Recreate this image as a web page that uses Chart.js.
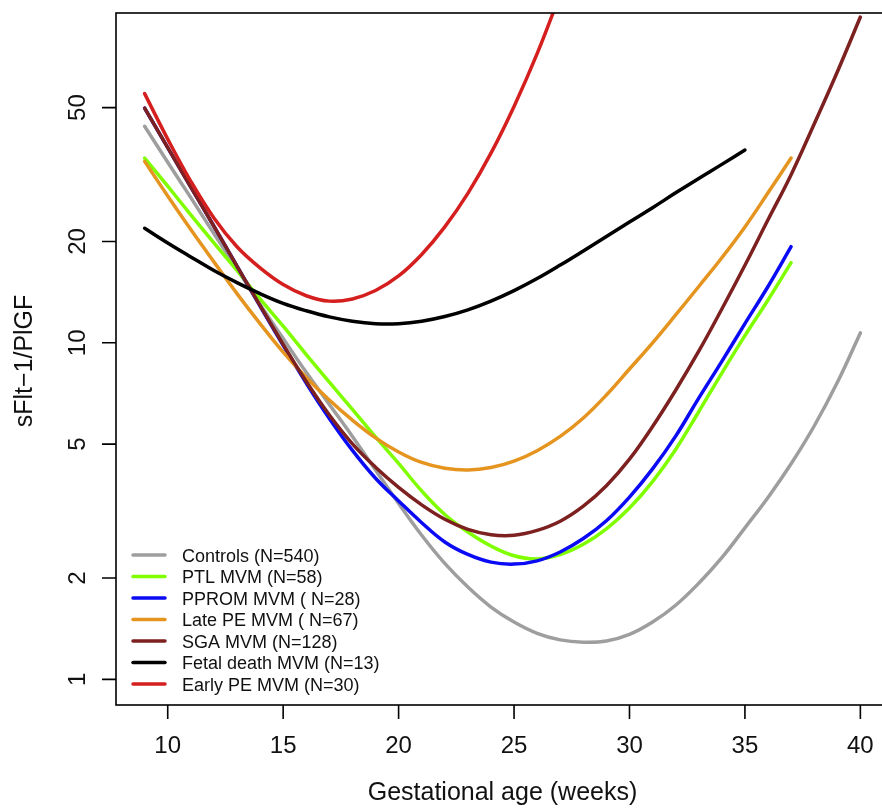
<!DOCTYPE html>
<html>
<head>
<meta charset="utf-8">
<script src="https://cdn.jsdelivr.net/npm/chart.js@4.4.1/dist/chart.umd.min.js"></script>
<style>
  html, body { margin: 0; padding: 0; background: #fff; overflow: hidden; }
  #wrap { width: 882px; height: 810px; overflow: hidden; position: relative; }
  #curves { position: absolute; left: 0; top: 0; }
</style>
</head>
<body>
<div id="wrap"><canvas id="curves" width="900" height="810"></canvas></div>
<script>
// Fitted sFlt-1/PlGF ratio by gestational week (weeks 9..40, each group stops where its data ends)
const weeks = [9, 10, 11, 12, 13, 14, 15, 16, 17, 18, 19, 20, 21, 22, 23, 24,
               25, 26, 27, 28, 29, 30, 31, 32, 33, 34, 35, 36, 37, 38, 39, 40];

const controls = [44.0, 34.4, 27.0, 21.1, 16.6, 13.0, 10.3, 8.17, 6.56, 5.27, 4.19, 3.33,
                  2.68, 2.21, 1.88, 1.64, 1.48, 1.37, 1.31, 1.29, 1.30, 1.36, 1.48, 1.66,
                  1.93, 2.30, 2.82, 3.47, 4.37, 5.66, 7.62, 10.7];
const ptl = [35.4, 29.2, 24.0, 19.8, 16.4, 13.5, 11.2, 9.23, 7.64, 6.34, 5.25, 4.38,
             3.63, 3.09, 2.74, 2.49, 2.33, 2.28, 2.35, 2.52, 2.80, 3.23, 3.87, 4.82,
             6.24, 8.13, 10.5, 13.4, 17.3];
const pprom = [49.8, 38.0, 29.0, 22.2, 16.9, 12.85, 9.82, 7.59, 5.96, 4.79, 3.96, 3.39,
               2.92, 2.56, 2.35, 2.23, 2.20, 2.25, 2.39, 2.62, 2.96, 3.48, 4.22, 5.28,
               6.85, 8.81, 11.4, 14.7, 19.3];
const latePE = [34.6, 27.3, 21.7, 17.4, 14.0, 11.4, 9.38, 7.89, 6.76, 5.89, 5.22, 4.74,
                4.41, 4.24, 4.19, 4.26, 4.45, 4.78, 5.27, 5.98, 7.00, 8.36, 10.0, 12.1,
                14.7, 17.9, 22.1, 27.9, 35.4];
const sga = [49.8, 38.0, 29.0, 22.2, 16.9, 12.9, 9.89, 7.67, 6.10, 5.01, 4.27, 3.72,
             3.30, 2.99, 2.79, 2.69, 2.68, 2.77, 2.95, 3.27, 3.76, 4.51, 5.64, 7.23,
             9.44, 12.6, 17.0, 23.2, 31.6, 44.7, 63.8, 92.9];
const fetalDeath = [21.9, 19.8, 18.0, 16.4, 15.1, 14.0, 13.1, 12.45, 11.94, 11.59, 11.40, 11.40,
                    11.59, 11.97, 12.53, 13.30, 14.29, 15.52, 17.02, 18.75, 20.70, 22.86, 25.2, 27.9,
                    30.8, 33.9, 37.4];
const earlyPE = [55.0, 40.3, 30.2, 23.5, 19.3, 16.7, 14.9, 13.8, 13.3, 13.5, 14.3, 15.8,
                 18.3, 22.1, 27.8, 36.6, 50.4, 72.3, 109, 170];

const groupLabels = ['Controls (N=540)', 'PTL MVM (N=58)', 'PPROM MVM ( N=28)',
                     'Late PE MVM ( N=67)', 'SGA MVM (N=128)', 'Fetal death MVM (N=13)',
                     'Early PE MVM (N=30)'];
const groupValues = [controls, ptl, pprom, latePE, sga, fetalDeath, earlyPE];
const groupColors = ['#9e9e9e', '#7fff00', '#0a0af5', '#e5951f', '#7d2020', '#000000', '#d51f1f'];

const xTicks = [10, 15, 20, 25, 30, 35, 40];
const yTicks = [1, 2, 5, 10, 20, 50];

const FONT = '"Liberation Sans", Arial, Helvetica, sans-serif';

// Base-graphics style frame: box, outward ticks, rotated y labels, legend without border
const rAxes = {
    id: 'rAxes',
    afterDatasetsDraw(chart) {
        const { ctx, chartArea: a, scales: { x, y } } = chart;
        ctx.save();

        ctx.strokeStyle = '#000';
        ctx.lineWidth = 1.6;
        ctx.strokeRect(a.left, a.top, a.right - a.left, a.bottom - a.top);

        ctx.beginPath();
        xTicks.forEach(t => {
            const px = x.getPixelForValue(t);
            ctx.moveTo(px, a.bottom);
            ctx.lineTo(px, a.bottom + 14);
        });
        yTicks.forEach(t => {
            const py = y.getPixelForValue(t);
            ctx.moveTo(a.left, py);
            ctx.lineTo(a.left - 14, py);
        });
        ctx.stroke();

        ctx.fillStyle = '#111';
        ctx.textAlign = 'center';
        ctx.textBaseline = 'alphabetic';
        ctx.font = '24px ' + FONT;
        xTicks.forEach(t => ctx.fillText(String(t), x.getPixelForValue(t), a.bottom + 48));
        yTicks.forEach(t => {
            ctx.save();
            ctx.translate(a.left - 31, y.getPixelForValue(t));
            ctx.rotate(-Math.PI / 2);
            ctx.fillText(String(t), 0, 0);
            ctx.restore();
        });

        ctx.font = '25px ' + FONT;
        ctx.fillText('Gestational age (weeks)', (a.left + a.right) / 2, a.bottom + 95);
        ctx.save();
        ctx.translate(32, (a.top + a.bottom) / 2 + 2);
        ctx.rotate(-Math.PI / 2);
        ctx.fillText('sFlt\u22121/PlGF', 0, 0);
        ctx.restore();

        // legend, bottom-left inside the plot
        ctx.font = '18px ' + FONT;
        ctx.textAlign = 'left';
        ctx.lineCap = 'round';
        ctx.lineWidth = 3.5;
        groupLabels.forEach((label, i) => {
            const ry = 555 + i * 21.5;
            ctx.strokeStyle = groupColors[i];
            ctx.beginPath();
            ctx.moveTo(133, ry);
            ctx.lineTo(165, ry);
            ctx.stroke();
            ctx.fillText(label, 182, ry + 6.6);
        });

        ctx.restore();
    }
};

new Chart(document.getElementById('curves'), {
    type: 'line',
    data: {
        datasets: groupLabels.map((label, i) => ({
            label: label,
            data: groupValues[i].map((v, k) => ({ x: weeks[k], y: v })),
            borderColor: groupColors[i],
            borderWidth: 3.5,
            borderCapStyle: 'round',
            borderJoinStyle: 'round',
            pointRadius: 0,
            tension: 0.4,
            fill: false,
            clip: 0,
            // later groups sit on top
            order: groupLabels.length - i
        }))
    },
    options: {
        responsive: false,
        animation: false,
        layout: { padding: { left: 116, top: 13, right: 11, bottom: 105 } },
        plugins: {
            legend: { display: false },
            tooltip: { enabled: false }
        },
        scales: {
            x: { type: 'linear', min: 7.76, max: 41.24, display: false },
            y: { type: 'logarithmic', min: 0.839, max: 95.5, display: false }
        }
    },
    plugins: [rAxes]
});
</script>
</body>
</html>
